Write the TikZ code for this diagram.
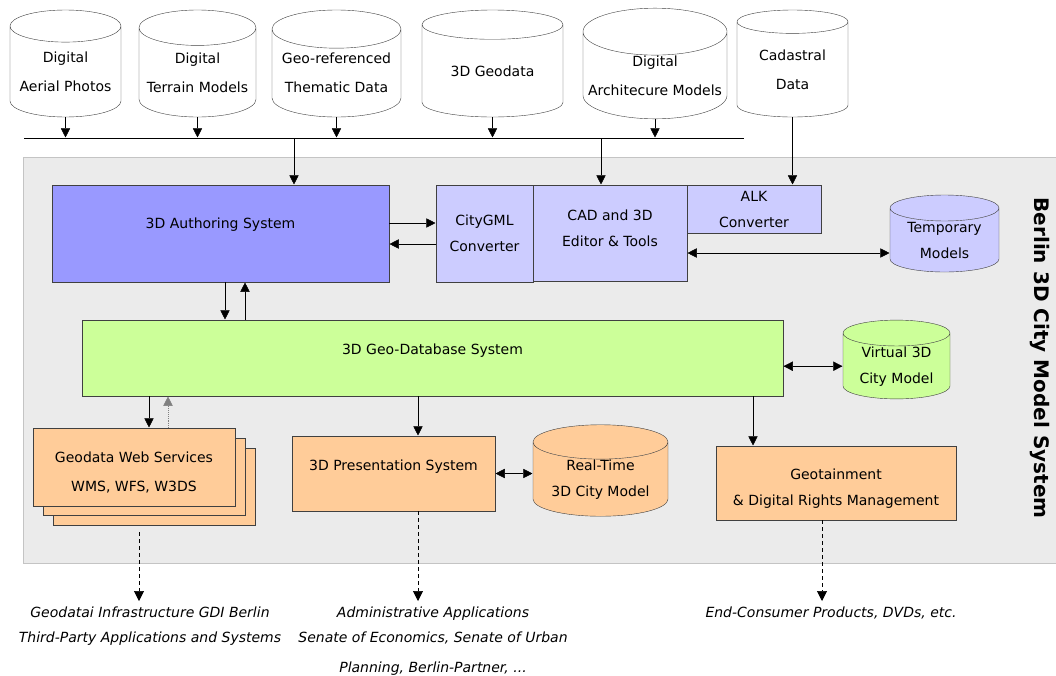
\documentclass[tikz,border=0pt]{standalone}
\usepackage{fontspec}
\setmainfont{DejaVu Sans}
\usetikzlibrary{arrows.meta,shapes.geometric}

\definecolor{authblue}{HTML}{9999FF}
\definecolor{convblue}{HTML}{CCCCFF}
\definecolor{dbgreen}{HTML}{CCFF99}
\definecolor{presorange}{HTML}{FFCC99}
\definecolor{panelgray}{HTML}{EBEBEB}
\definecolor{panelline}{HTML}{C4C4C4}
\definecolor{boxline}{HTML}{404040}

\begin{document}
\begin{tikzpicture}[x=1pt, y=-1pt]
\tikzset{ >={Triangle[width=10pt,length=10pt]}, inner sep=0pt, outer sep=0pt, line width=0.9pt,
  every node/.style={font=\fontsize{14}{26}\selectfont, align=center},
  box/.style={draw=boxline, rectangle, fill=#1},
  store/.style={draw=boxline, cylinder, shape border rotate=90, aspect=0.35, anchor=shape center,
                cylinder uses custom fill, cylinder body fill=#1, cylinder end fill=#1},
  liftup/.style={text height=10pt, text depth=#1},
  usage/.style={font=\fontsize{14}{25}\selectfont\itshape, outer sep=6pt, anchor=north},
  feed/.style={->, dash pattern=on 4pt off 3pt, line width=0.7pt},
}

\useasboundingbox (0,0) rectangle (1056,675);

\fill [panelgray] (23,157) rectangle (1056,563);
\draw [panelline] (1056,157) -- (23,157) -- (23,563) -- (1056,563);

% data sources
\node [store=white, minimum width=111pt, minimum height=107pt] (DAP) at (65.5,63.5) {Digital\\[3pt]Aerial Photos};
\node [store=white, minimum width=117pt, minimum height=107pt] (DTM) at (197.5,63.5) {Digital\\[3pt]Terrain Models};
\node [store=white, minimum width=129pt, minimum height=107pt] (GTD) at (336.5,63.5) {Geo-referenced\\[3pt]Thematic Data};
\node [store=white, minimum width=141pt, minimum height=107pt] (GEO) at (492.5,63.5) {3D Geodata};
\node [store=white, minimum width=144pt, minimum height=107pt] (DAM) at (655,63.5) {Digital\\[3pt]Architecure Models};
\node [store=white, minimum width=111pt, minimum height=107pt] (CD) at (792.5,63.5) {Cadastral\\[3pt]Data};

\coordinate (BL) at (24,138);
\coordinate (BR) at (744,138);
\coordinate (J1) at (294,138);
\coordinate (J2) at (601,138);
\draw (BL) -- (BR);

\foreach \src in {DAP,DTM,GTD,GEO,DAM}
  \draw [->] (\src.south) -- (\src.south |- BL);

% authoring row
\node [box=authblue, minimum width=337pt, minimum height=97pt, liftup=20.8pt] (AS) at (220.5,233.5) {3D Authoring System};
\node [box=convblue, minimum width=97pt, minimum height=97pt] (CGC) at (484.5,233.5) {CityGML\\Converter};
\node [box=convblue, minimum width=154pt, minimum height=96pt, text height=27pt] (CAD) at (610,233) {CAD and 3D\\Editor \& Tools};
\node [box=convblue, minimum width=134pt, minimum height=48pt] (ALK) at (754,209) {ALK\\Converter};
\node [store=convblue, minimum width=109pt, minimum height=77pt] (TM) at (944.5,233.5) {Temporary\\Models};

\draw [->] (J1) -- (J1 |- AS.north);
\draw [->] (J2) -- (J2 |- CAD.north);
\draw [->] (CD.south) -- (CD.south |- ALK.north);

\draw [->] ([yshift=10.5pt]AS.east) -- ([yshift=10.5pt]AS.east -| CGC.west);
\draw [->] ([yshift=-10.5pt]CGC.west) -- ([yshift=-10.5pt]CGC.west -| AS.east);
\draw [<->] ([yshift=-20pt]CAD.east) -- ([yshift=-20pt]CAD.east -| TM.west);

% database row
\node [box=dbgreen, minimum width=701pt, minimum height=76pt, liftup=17.8pt] (GDB) at (432.5,358) {3D Geo-Database System};
\node [store=dbgreen, minimum width=107pt, minimum height=75pt] (VCM) at (896.5,359.5) {Virtual 3D\\City Model};

\draw [->] ([xshift=4.5pt]AS.south) -- ([xshift=4.5pt]AS.south |- GDB.north);
\draw [<-] ([xshift=24.5pt]AS.south) -- ([xshift=24.5pt]AS.south |- GDB.north);
\draw [<->] (GDB.east |- VCM.west) -- (VCM.west);

% presentation row
\node [box=presorange, minimum width=202pt, minimum height=77pt] (WS3) at (154,486.5) {};
\node [box=presorange, minimum width=202pt, minimum height=77pt] (WS2) at (144,476.5) {};
\node [box=presorange, minimum width=202pt, minimum height=78pt, text height=51pt] (WS) at (134,467) {Geodata Web Services\\[3pt]WMS, WFS, W3DS};
\node [box=presorange, minimum width=203pt, minimum height=75pt, liftup=16.8pt] (PS) at (393.5,473.5) {3D Presentation System};
\node [store=presorange, minimum width=135pt, minimum height=75pt] (RT) at (600.5,470.5) {Real-Time\\3D City Model};
\node [box=presorange, minimum width=240pt, minimum height=74pt, text height=48pt] (GT) at (836,483) {Geotainment\\\& Digital Rights Management};

\draw [->] ([xshift=15pt]WS.north |- GDB.south) -- ([xshift=15pt]WS.north);
\draw [->, densely dotted, gray] ([xshift=34pt]WS.north) -- ([xshift=34pt]WS.north |- GDB.south);
\draw [->] ([xshift=24.5pt]PS.north |- GDB.south) -- ([xshift=24.5pt]PS.north);
\draw [<->] (PS.east) -- (PS.east -| RT.west);
\draw [->] ([xshift=-83pt]GT.north |- GDB.south) -- ([xshift=-83pt]GT.north);

\node [rotate=-90, font=\bfseries\fontsize{20}{24}\selectfont] (TITLE) at (1040,358) {Berlin 3D City Model System};

% users
\node [usage] (U1) at (150,601) {Geodatai Infrastructure GDI Berlin\\Third-Party Applications and Systems};
\node [usage] (U2) at (433,601) {Administrative Applications\\Senate of Economics, Senate of Urban\\[5pt]Planning, Berlin-Partner, ...};
\node [usage] (U3) at (831,601) {End-Consumer Products, DVDs, etc.};

\draw [feed] ([xshift=-15pt,yshift=-7pt]WS3.south) -- ([xshift=-15pt]WS3.south |- U1.north);
\draw [feed] ([xshift=24.5pt]PS.south) -- ([xshift=24.5pt]PS.south |- U2.north);
\draw [feed] ([xshift=-14pt]GT.south) -- ([xshift=-14pt]GT.south |- U3.north);
\end{tikzpicture}
\end{document}
